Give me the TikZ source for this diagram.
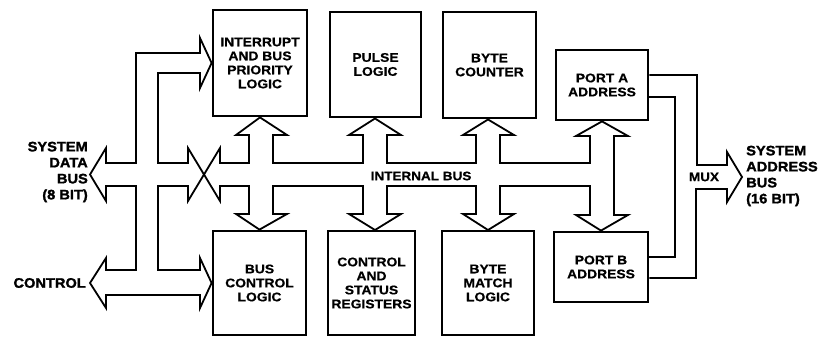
\documentclass[tikz,border=0pt]{standalone}
\usepackage{fontspec}
\newfontfamily\boxfont[FakeStretch=1.1,FakeBold=0.6]{Liberation Sans Bold}
\newfontfamily\heavyfont[FakeStretch=1.06,FakeBold=1.6]{Liberation Sans Bold}
\begin{document}
\begin{tikzpicture}[x=1pt,y=-1pt,
  blk/.style={draw=black,line width=2.8pt,rectangle,align=center,inner sep=0pt,
    font=\boxfont\fontsize{12.6}{14}\selectfont},
  bus/.style={draw=black,line width=1.8pt,line join=miter,fill=white},
  wire/.style={draw=black,line width=1.8pt,line join=miter},
  biglbl/.style={font=\heavyfont\fontsize{13.8}{16}\selectfont,inner sep=0pt},
  lbl/.style={font=\boxfont\fontsize{12.3}{14}\selectfont,inner sep=0pt}]
\useasboundingbox[fill=white] (0,0) rectangle (820,339);

% functional blocks, upper row
\node[blk,minimum width=94pt,minimum height=106pt] (intr)  at (260,63)    {INTERRUPT\\AND BUS\\PRIORITY\\LOGIC};
\node[blk,minimum width=91pt,minimum height=105pt] (pulse) at (375.5,64.5) {PULSE\\LOGIC};
\node[blk,minimum width=93pt,minimum height=106pt] (bcnt)  at (489.5,65)  {BYTE\\COUNTER};
\node[blk,minimum width=92pt,minimum height=70pt]  (porta) at (602,85)    {PORT A\\ADDRESS};
% functional blocks, lower row
\node[blk,minimum width=93pt,minimum height=104pt] (bctl)   at (259.5,283) {BUS\\CONTROL\\LOGIC};
\node[blk,minimum width=87pt,minimum height=104pt] (csr)    at (371.5,283) {CONTROL\\AND\\STATUS\\REGISTERS};
\node[blk,minimum width=92pt,minimum height=104pt] (bmatch) at (488,283)   {BYTE\\MATCH\\LOGIC};
\node[blk,minimum width=94pt,minimum height=70pt]  (portb)  at (601,267)   {PORT B\\ADDRESS};

% system data bus with its branches to the interrupt logic and to CONTROL
\draw[bus] (106,163) -- (136,163) -- (136,53) -- (200,53) -- (200,38)
  -- (intr.west) -- (200,88) -- (200,73) -- (158,73) -- (158,163)
  -- (188,163) -- (188,148) -- (204,174.5) -- (188,201) -- (188,186)
  -- (158,186) -- (158,270) -- (200,270) -- (200,258)
  -- (bctl.west) -- (200,308) -- (200,295) -- (106,295) -- (106,308)
  -- (90,283) -- (106,258) -- (106,270) -- (136,270) -- (136,186)
  -- (106,186) -- (106,201) -- (90,174.5) -- (106,148) -- cycle;

% internal bus with its arrows to every block
\draw[bus] (204,174.5) -- (220,148) -- (220,163)
  -- (249,163) -- (249,135) -- (236,135) -- (intr.south) -- (287,135) -- (273,135) -- (273,163)
  -- (363,163) -- (363,135) -- (349,135) -- (375,118.5) -- (401,135) -- (387,135) -- (387,163)
  -- (476,163) -- (476,135) -- (463,135) -- (488,119.5) -- (514,135) -- (500,135) -- (500,163)
  -- (590,163) -- (590,136) -- (576,136) -- (porta.south) -- (628,136) -- (614,136)
  -- (614,215) -- (628,215) -- (portb.north) -- (576,215) -- (590,215) -- (590,186)
  -- (500,186) -- (500,214) -- (514,214) -- (488,230) -- (463,214) -- (476,214) -- (476,186)
  -- (387,186) -- (387,214) -- (401,214) -- (375,230) -- (349,214) -- (363,214) -- (363,186)
  -- (273,186) -- (273,214) -- (287,214) -- (bctl.north) -- (236,214) -- (249,214) -- (249,186)
  -- (220,186) -- (220,201) -- cycle;

% address outputs multiplexed onto the system address bus
\draw[wire] (porta.east |- 0,75) -- (697,75) -- (697,165) -- (727,165) -- (727,152)
  -- (742,177) -- (727,202) -- (727,189) -- (696,189) -- (696,278) -- (portb.east |- 0,278);
\draw[wire] (porta.east |- 0,97) -- (675,97) -- (675,257) -- (portb.east |- 0,257);

% labels
\node[lbl] (ibus) at (421,176) {INTERNAL BUS};
\node[lbl] (mux) at (704,177) {MUX};
\node[biglbl,align=right,anchor=east] (sdb) at (88,172) {SYSTEM\\DATA\\BUS\\(8 BIT)};
\node[biglbl,anchor=east] (ctl) at (86,283) {CONTROL};
\node[biglbl,align=left,anchor=west] (sab) at (746,176) {SYSTEM\\ADDRESS\\BUS\\(16 BIT)};
\end{tikzpicture}
\end{document}
